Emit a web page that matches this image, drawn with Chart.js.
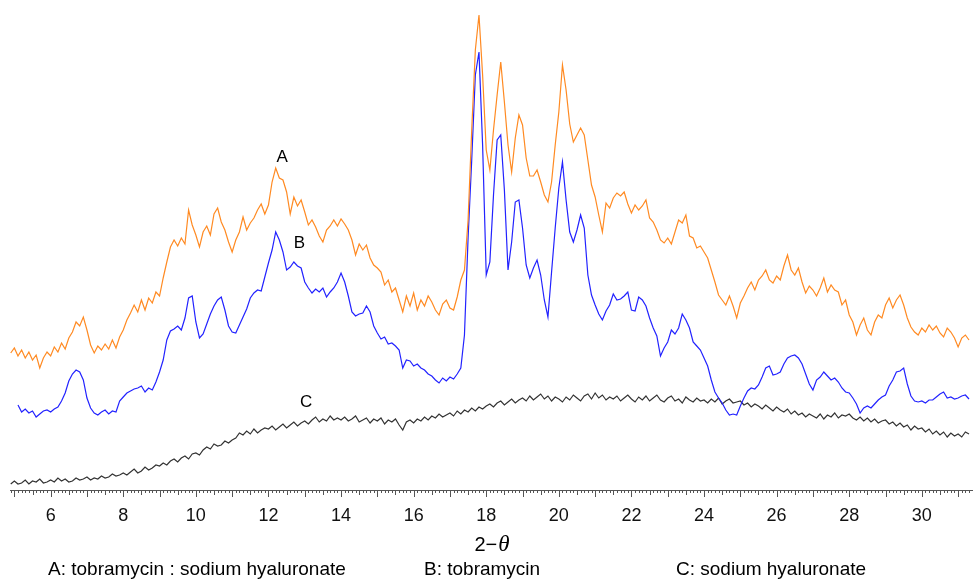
<!DOCTYPE html>
<html>
<head>
<meta charset="utf-8">
<title>XRD patterns</title>
<style>
html, body { margin: 0; padding: 0; background: #fff; }
#wrap { width: 973px; height: 579px; }
</style>
</head>
<body>
<div id="wrap">
  <canvas id="chart" width="973" height="579"></canvas>
</div>
<script src="https://cdn.jsdelivr.net/npm/chart.js"></script>
<script>
  // 2-theta sampling grid (degrees): first point and spacing
  const thetaStart = 4.9;
  const thetaStep = 0.1;

  // tick labels along the 2-theta axis
  const tickLabels = [6, 8, 10, 12, 14, 16, 18, 20, 22, 24, 26, 28, 30];

  // A: tobramycin : sodium hyaluronate (arbitrary intensity)
  const seriesA = [
    137,
    142,134,140,132,138,130,135,122,132,138,   // 5.0
    134,143,138,147,141,152,158,168,164,173,   // 6.0
    160,145,137,144,140,146,141,150,142,153,   // 7.0
    160,170,177,185,178,190,180,192,187,198,   // 8.0
    194,212,228,243,250,244,252,246,280,265,   // 9.0
    255,243,258,264,255,276,282,268,260,248,   // 10.0
    238,250,258,273,260,267,272,280,286,276,   // 11.0
    285,308,322,312,310,298,276,293,284,290,   // 12.0
    278,265,270,263,254,248,260,264,270,264,   // 13.0
    271,266,260,250,235,246,240,245,232,225,   // 14.0
    222,218,205,210,198,202,190,178,194,184,   // 15.0
    197,180,190,184,194,188,180,175,186,190,   // 16.0
    182,180,193,210,220,270,360,440,475,415,   // 17.0
    340,320,360,395,428,388,345,318,352,375,   // 18.0
    365,332,314,314,320,308,295,288,308,345,   // 19.0
    378,425,400,366,348,355,362,355,330,305,   // 20.0
    293,275,258,287,282,292,297,294,298,286,   // 21.0
    277,285,280,284,290,272,268,260,250,247,   // 22.0
    252,246,258,270,267,275,254,252,242,244,   // 23.0
    238,232,220,208,195,190,185,194,184,172,   // 24.0
    187,194,202,208,200,210,214,220,210,207,   // 25.0
    214,210,224,235,220,215,222,208,197,204,   // 26.0
    200,194,202,212,198,205,200,198,185,190,   // 27.0
    175,168,155,165,172,160,155,168,175,172,   // 28.0
    185,192,182,190,195,185,172,163,158,155,   // 29.0
    162,158,165,160,164,157,153,162,158,152,   // 30.0
    143,152,155,150                            // 31.0
  ];

  // B: tobramycin
  const seriesB = [
    null,
    null,85,78,81,77,79,73,76,79,80,           // 5.0
    78,81,83,89,97,109,116,120,118,110,        // 6.0
    92,82,77,75,78,80,76,79,78,89,             // 7.0
    93,97,99,101,102,104,98,102,100,108,       // 8.0
    118,130,150,159,161,164,160,172,192,194,   // 9.0
    168,152,156,166,176,184,190,193,180,164,   // 10.0
    158,157,165,173,181,192,197,200,199,213,   // 11.0
    227,240,258,250,238,220,223,228,224,222,   // 12.0
    208,202,197,201,198,202,193,198,202,208,   // 13.0
    217,208,194,178,174,176,177,184,178,164,   // 14.0
    157,151,153,146,147,144,140,122,130,129,   // 15.0
    124,126,122,120,116,114,110,107,112,109,   // 16.0
    113,111,116,122,155,252,330,415,438,345,   // 17.0
    215,228,295,350,355,300,220,248,288,290,   // 18.0
    262,225,212,222,230,215,190,173,218,262,   // 19.0
    302,328,290,258,248,260,275,262,215,195,   // 20.0
    185,176,170,179,185,196,190,191,194,198,   // 21.0
    180,179,193,190,184,172,162,154,134,142,   // 22.0
    148,160,156,162,176,170,162,148,144,140,   // 23.0
    132,124,110,98,92,87,80,75,76,75,          // 24.0
    84,92,99,102,101,105,113,122,124,115,      // 25.0
    116,118,126,132,134,135,132,126,116,106,   // 26.0
    100,110,113,118,114,110,112,108,102,98,    // 27.0
    97,92,86,77,82,84,82,86,90,93,             // 28.0
    95,104,110,118,119,122,106,94,89,88,       // 29.0
    89,87,90,90,93,96,98,92,93,91,             // 30.0
    92,94,95,91                                // 31.0
  ];

  // C: sodium hyaluronate
  const seriesC = [
    6,
    9,6,7,10,6,9,8,11,7,8,                     // 5.0
    10,8,12,9,11,8,9,12,10,11,                 // 6.0
    13,10,12,11,14,12,13,16,14,15,             // 7.0
    17,15,18,21,17,19,23,20,22,25,             // 8.0
    24,27,25,29,31,28,32,34,31,36,             // 9.0
    37,35,40,43,41,46,44,45,49,47,             // 10.0
    50,52,57,55,59,56,61,57,60,62,             // 11.0
    61,64,60,63,66,62,65,68,64,67,             // 12.0
    69,66,70,73,68,71,69,74,70,72,             // 13.0
    70,73,69,71,74,68,70,72,67,71,             // 14.0
    69,72,66,70,68,71,65,60,68,70,             // 15.0
    67,71,69,73,70,74,72,76,73,75,             // 16.0
    77,74,79,76,80,78,82,79,83,81,             // 17.0
    84,86,83,87,89,85,88,91,87,90,             // 18.0
    92,89,94,90,93,96,91,94,89,93,             // 19.0
    91,88,93,90,95,92,89,94,96,91,             // 20.0
    97,92,95,90,93,91,94,89,92,95,             // 21.0
    91,88,93,90,94,89,92,95,90,88,             // 22.0
    92,94,89,91,87,93,90,88,92,89,             // 23.0
    90,87,91,88,92,86,89,91,87,88,             // 24.0
    89,85,87,83,86,84,81,85,82,79,             // 25.0
    83,80,78,81,76,79,75,77,73,76,             // 26.0
    74,72,76,71,75,73,77,72,75,74,             // 27.0
    76,72,70,73,69,72,68,71,67,69,             // 28.0
    70,66,68,64,67,63,65,60,64,61,             // 29.0
    62,58,61,56,59,55,58,53,57,54,             // 30.0
    56,53,58,56                                // 31.0
  ];

  const seriesNames = ['A', 'B', 'C'];
  const seriesColors = ['#ff8a22', '#2222ff', '#333333'];
  const legendNotes = ['A: tobramycin : sodium hyaluronate', 'B: tobramycin', 'C: sodium hyaluronate'];

  // where the A/B/C tags sit, in data units (2-theta, intensity)
  const tagSpots = [[12.38, 333], [12.85, 247], [13.04, 88]];

  const toPoints = (arr) => arr.map((v, i) => ({ x: +(thetaStart + i * thetaStep).toFixed(2), y: v }));

  const decor = {
    id: 'decor',
    afterDraw(chart) {
      const ctx = chart.ctx;
      const x = chart.scales.x, y = chart.scales.y;
      const base = chart.chartArea.bottom;
      ctx.save();

      // comb of minor / major ticks every 0.1 degree
      ctx.strokeStyle = '#555';
      ctx.lineWidth = 1;
      for (let k = Math.ceil(x.min * 10); k <= Math.floor(x.max * 10); k++) {
        const px = Math.round(x.getPixelForValue(k / 10)) + 0.5;
        const len = k % 10 === 0 ? 7 : (k % 5 === 0 ? 5 : 3);
        ctx.beginPath();
        ctx.moveTo(px, base);
        ctx.lineTo(px, base + len);
        ctx.stroke();
      }

      // A / B / C tags
      ctx.fillStyle = '#000';
      ctx.font = '17px "Liberation Sans", Arial, sans-serif';
      ctx.textAlign = 'center';
      ctx.textBaseline = 'middle';
      tagSpots.forEach((p, i) => {
        ctx.fillText(seriesNames[i], x.getPixelForValue(p[0]), y.getPixelForValue(p[1]));
      });

      // axis title 2-theta
      const mid = (x.left + x.right) / 2;
      ctx.textBaseline = 'alphabetic';
      ctx.textAlign = 'left';
      const f1 = '20px "Liberation Sans", Arial, sans-serif';
      const f2 = 'italic 23px "Liberation Serif", "Times New Roman", serif';
      ctx.font = f1;
      const w1 = ctx.measureText('2\u2212').width;
      ctx.font = f2;
      const w2 = ctx.measureText('\u03b8').width;
      const start = mid - (w1 + w2) / 2;
      ctx.font = f1;
      ctx.fillText('2\u2212', start, 551);
      ctx.font = f2;
      ctx.fillText('\u03b8', start + w1 + 1, 551);

      // series notes under the axis
      ctx.font = '19px "Liberation Sans", Arial, sans-serif';
      const noteX = [48, 424, 676];
      legendNotes.forEach((t, i) => ctx.fillText(t, noteX[i], 575));

      ctx.restore();
    }
  };

  const series = [seriesA, seriesB, seriesC];

  new Chart(document.getElementById('chart'), {
    type: 'line',
    data: {
      datasets: series.map((s, i) => ({
        label: seriesNames[i],
        data: toPoints(s),
        borderColor: seriesColors[i],
        borderWidth: 1.2,
        pointRadius: 0,
        fill: false,
        tension: 0
      }))
    },
    options: {
      responsive: false,
      animation: false,
      layout: { padding: { left: 10, right: 0, top: 0, bottom: 0 } },
      plugins: { legend: { display: false }, tooltip: { enabled: false } },
      scales: {
        x: {
          type: 'linear',
          min: 4.88,
          max: 31.41,
          afterFit(s) { s.height = 89; },
          afterBuildTicks(s) { s.ticks = tickLabels.map(v => ({ value: v })); },
          grid: { display: false, drawTicks: false },
          border: { display: true, color: '#555', width: 1 },
          ticks: {
            autoSkip: false,
            maxRotation: 0,
            padding: 15,
            color: '#111',
            font: { family: '"Liberation Sans", Arial, sans-serif', size: 18 }
          }
        },
        y: { display: false, min: 0, max: 490 }
      }
    },
    plugins: [decor]
  });
</script>
</body>
</html>
